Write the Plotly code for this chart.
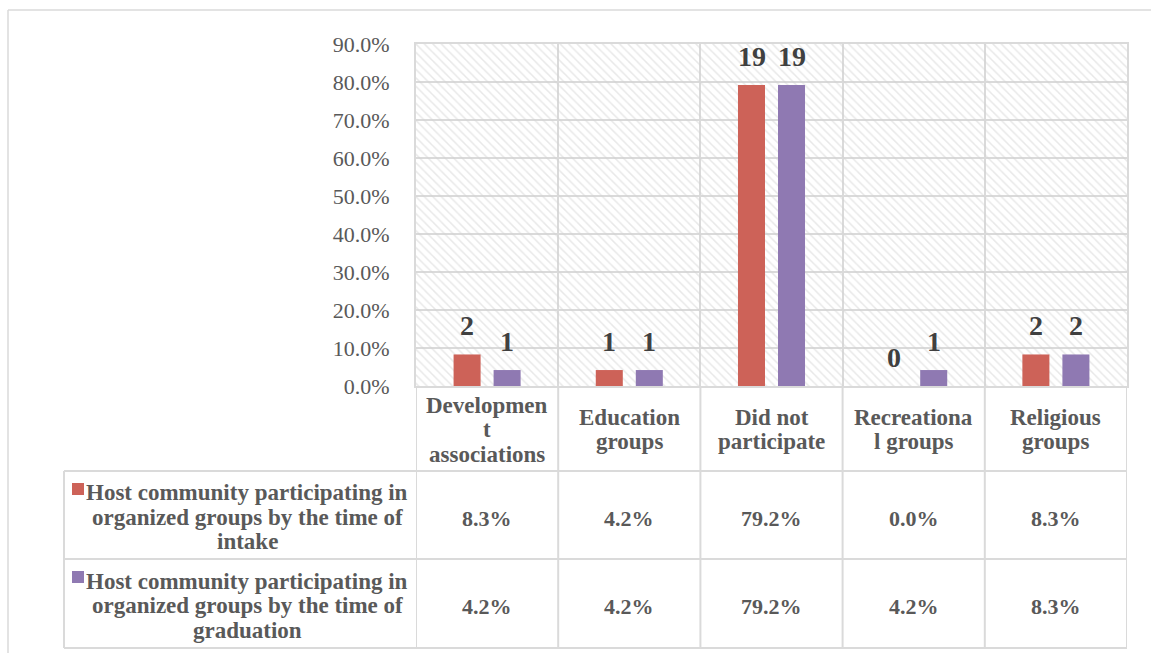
import plotly.graph_objects as go

# ---- data -------------------------------------------------------------
categories = ["Development associations", "Education groups", "Did not participate",
              "Recreational groups", "Religious groups"]
category_labels = [["Developmen", "t", "associations"], ["Education", "groups"],
                   ["Did not", "participate"], ["Recreationa", "l groups"],
                   ["Religious", "groups"]]

series_names = [
    ["Host community participating in", "organized groups by the time of", "intake"],
    ["Host community participating in", "organized groups by the time of", "graduation"],
]
intake_pct = [8.3, 4.2, 79.2, 0.0, 8.3]
graduation_pct = [4.2, 4.2, 79.2, 4.2, 8.3]
intake_count = [2, 1, 19, 0, 2]
graduation_count = [1, 1, 19, 1, 2]

y_max, y_step = 90, 10

# ---- styling ----------------------------------------------------------
W, H = 1151, 653
RED = "#CD6258"
PURPLE = "#8F79B2"
GRID = "#dadada"
TXT = "#595959"
LBL = "#404040"
FONT = "Liberation Serif"

PLOT_L, PLOT_R, PLOT_T, PLOT_B = 416, 1127, 44, 386
TABLE_L = 64
ROW_TOPS = [471, 559, 648]
LINE_GAP = 24.5


def px(x):
    return x / W


def py(y):
    return 1 - y / H


fig = go.Figure()

# hatched plot-area background (base subplot, hidden x axis)
fig.add_trace(go.Scatter(
    x=[0, 1, 1, 0, 0], y=[0, 0, y_max, y_max, 0],
    xaxis="x", yaxis="y", mode="lines", line=dict(width=0),
    fill="toself", fillcolor="rgba(0,0,0,0)",
    fillpattern=dict(shape="\\", fgcolor="#d2d2d2", bgcolor="rgba(0,0,0,0)",
                     size=6, solidity=0.25),
    hoverinfo="skip", showlegend=False,
))

# bars on the overlaid category axis
for vals, color, name in [(intake_pct, RED, "intake"), (graduation_pct, PURPLE, "graduation")]:
    fig.add_trace(go.Bar(
        x=categories, y=vals, xaxis="x2", yaxis="y",
        marker=dict(color=color, line=dict(width=0)),
        name=name, showlegend=False,
    ))

annotations = []
shapes = []


def text_block(lines, x, xref, center_px, size, xanchor="center"):
    """Stack lines of bold text around a vertical centre given in pixels."""
    n = len(lines)
    for i, t in enumerate(lines):
        yc = center_px + (i - (n - 1) / 2) * LINE_GAP
        annotations.append(dict(
            x=x, y=py(yc), xref=xref, yref="paper", text=f"<b>{t}</b>",
            showarrow=False, xanchor=xanchor, yanchor="middle",
            font=dict(family=FONT, size=size, color=TXT),
        ))


# count labels above bars
for counts, vals, shift in [(intake_count, intake_pct, -20), (graduation_count, graduation_pct, 20)]:
    for c, cnt, v in zip(categories, counts, vals):
        annotations.append(dict(
            x=c, y=v, xref="x2", yref="y", xshift=shift, yshift=11,
            text=f"<b>{cnt}</b>", showarrow=False, yanchor="bottom",
            font=dict(family=FONT, size=28, color=LBL),
        ))

# category header row
hdr_mid = (PLOT_B + ROW_TOPS[0]) / 2 + 1
for c, lab in zip(categories, category_labels):
    text_block(lab, c, "x2", hdr_mid, 23)

# data table rows
for r, (vals, color, name) in enumerate([(intake_pct, RED, series_names[0]),
                                         (graduation_pct, PURPLE, series_names[1])]):
    top, bot = ROW_TOPS[r], ROW_TOPS[r + 1]
    mid = (top + bot) / 2
    text_block(name, px(247), "paper", mid + 2, 23)
    shapes.append(dict(type="rect", xref="paper", yref="paper",
                       x0=px(72), x1=px(84), y0=py(top + 12), y1=py(top + 24),
                       fillcolor=color, line=dict(width=0)))
    for c, v in zip(categories, vals):
        text_block([f"{v:.1f}%"], c, "x2", mid + 3, 22)

# table grid lines
line = dict(color=GRID, width=2)
for k in range(len(categories) + 1):
    shapes.append(dict(type="line", xref="x2", yref="paper", x0=k - 0.5, x1=k - 0.5,
                       y0=py(PLOT_B), y1=py(ROW_TOPS[-1]), line=line))
shapes.append(dict(type="line", xref="paper", yref="paper", x0=px(TABLE_L), x1=px(TABLE_L),
                   y0=py(ROW_TOPS[0]), y1=py(ROW_TOPS[-1]), line=line))
for yy in ROW_TOPS:
    shapes.append(dict(type="line", xref="paper", yref="paper", x0=px(TABLE_L), x1=px(PLOT_R),
                       y0=py(yy), y1=py(yy), line=line))

# outer chart frame
frame = dict(color=GRID, width=1.5)
shapes.append(dict(type="line", xref="paper", yref="paper", x0=px(8), x1=1.0,
                   y0=py(10), y1=py(10), line=frame))
shapes.append(dict(type="line", xref="paper", yref="paper", x0=px(8), x1=px(8),
                   y0=py(10), y1=0, line=frame))

fig.update_layout(
    width=W, height=H,
    margin=dict(l=0, r=0, t=0, b=0, autoexpand=False),
    paper_bgcolor="white", plot_bgcolor="white",
    barmode="group", bargap=0.437, bargroupgap=0.325,
    xaxis=dict(domain=[px(PLOT_L), px(PLOT_R)], range=[0, 1], visible=False,
               fixedrange=True, automargin=False),
    xaxis2=dict(domain=[px(PLOT_L), px(PLOT_R)], overlaying="x", anchor="y",
                type="category", tickson="boundaries", showgrid=True, gridcolor=GRID,
                gridwidth=2, showticklabels=False, ticks="", showline=True, mirror=True,
                linecolor=GRID, linewidth=2, range=[-0.5, len(categories) - 0.5],
                automargin=False),
    yaxis=dict(domain=[py(PLOT_B), py(PLOT_T)], anchor="x", range=[0, y_max],
               tick0=0, dtick=y_step, tickformat=".1f", ticksuffix="%",
               showgrid=True, gridcolor=GRID, gridwidth=2, zeroline=False,
               showline=True, mirror=True, linecolor=GRID, linewidth=2,
               ticks="", ticklabelstandoff=20, automargin=False,
               tickfont=dict(family=FONT, size=22, color=TXT)),
    annotations=annotations, shapes=shapes,
)

fig.write_html("out.html")
